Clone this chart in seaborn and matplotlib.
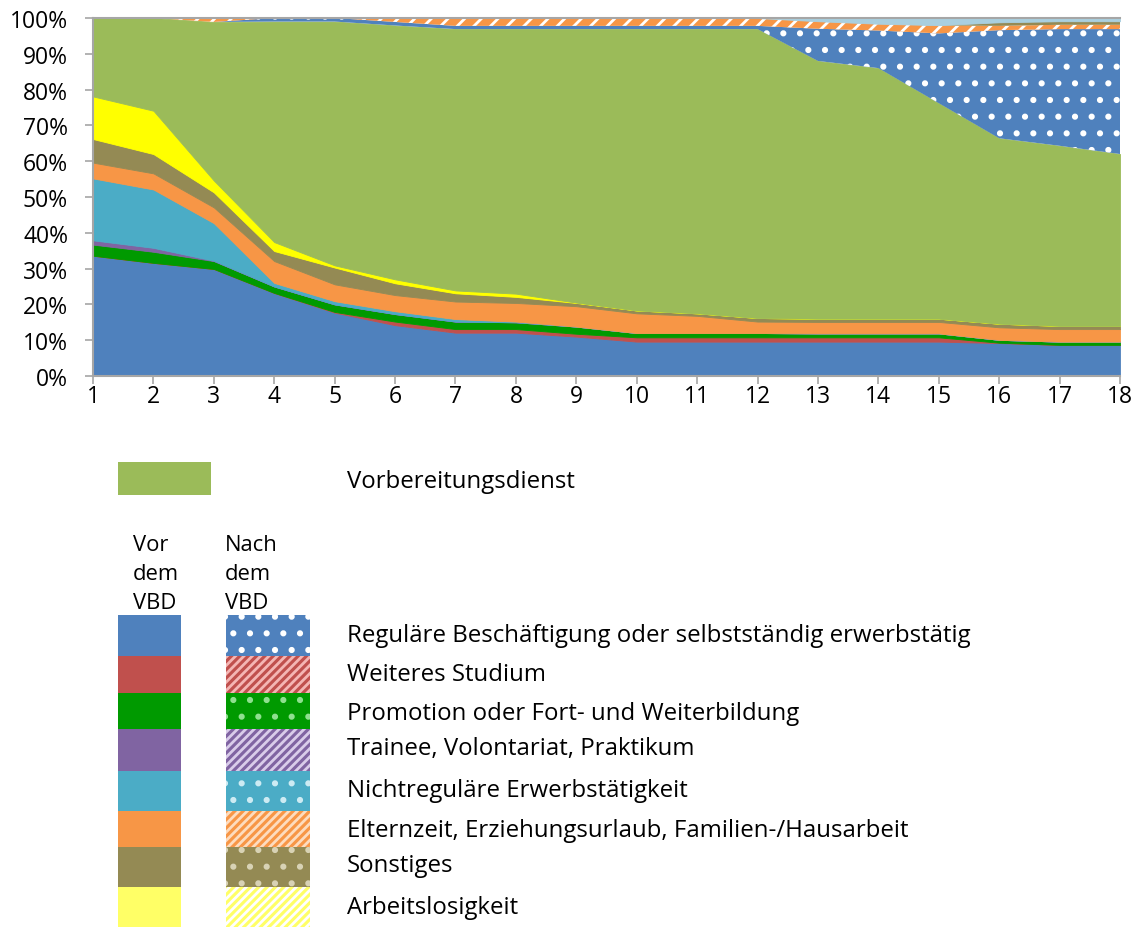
import matplotlib
matplotlib.use("Agg")
import numpy as np
import matplotlib.pyplot as plt
from matplotlib.patches import Rectangle
from matplotlib.ticker import PercentFormatter
import seaborn as sns

# Zeitpunkte 1..18
zeitpunkte = list(range(1, 19))

# Anteile in % -- vor dem Vorbereitungsdienst (VBD)
regulaer_vor = [33.6, 31.6, 29.9, 23.2, 17.7, 14.2, 12.1, 12.1, 11.0, 9.6, 9.6, 9.6, 9.6, 9.6, 9.6, 9.2, 8.7, 8.7]
studium_vor = [0, 0, 0, 0, 0.2, 1.0, 1.0, 1.0, 0.8, 1.2, 1.2, 1.2, 1.2, 1.2, 1.2, 0.1, 0, 0]
promotion_vor = [3.1, 3.1, 2.2, 1.8, 2.1, 2.1, 2.1, 1.9, 2.0, 1.2, 1.2, 1.2, 1.1, 1.1, 1.1, 0.8, 0.9, 0.9]
trainee_vor = [1.2, 1.1, 0.1, 0, 0, 0, 0, 0, 0, 0, 0, 0, 0, 0, 0, 0, 0, 0]
nichtregulaer_vor = [17.3, 16.3, 10.5, 1.0, 0.9, 0.8, 0.7, 0.2, 0, 0, 0, 0, 0, 0, 0, 0, 0, 0]
elternzeit_vor = [4.4, 4.5, 4.4, 6.1, 4.7, 4.5, 4.9, 5.2, 5.7, 5.5, 4.8, 3.2, 3.2, 3.2, 3.2, 3.5, 3.5, 3.5]
sonstiges_vor = [6.6, 5.4, 4.2, 2.8, 4.7, 3.3, 2.3, 1.7, 0.9, 0.8, 0.7, 1.0, 0.9, 0.9, 0.9, 1.0, 0.9, 0.9]
arbeitslos_vor = [11.9, 12.1, 3.3, 2.5, 0.6, 1.1, 0.8, 0.9, 0.1, 0, 0, 0, 0, 0, 0, 0, 0, 0]

# Vorbereitungsdienst
vbd = [21.9, 25.9, 44.3, 61.6, 68.1, 70.9, 73.0, 73.9, 76.4, 78.6, 79.4, 80.7, 72.0, 70.0, 60.2, 51.8, 50.3, 48.0]

# nach dem VBD
regulaer_nach = [0, 0, 0, 1.0, 1.0, 1.0, 0.9, 0.9, 0.9, 0.9, 0.9, 0.9, 9.0, 10.5, 19.5, 30.2, 32.6, 34.9]
elternzeit_nach = [0, 0, 1.1, 0, 0, 1.1, 2.2, 2.2, 2.2, 2.2, 2.2, 2.2, 2.1, 1.9, 2.2, 1.2, 1.2, 1.2]
sonstiges_nach = [0, 0, 0, 0, 0, 0, 0, 0, 0, 0, 0, 0, 0, 0, 0.1, 1.0, 1.0, 1.0]
fehlend = [0, 0, 0, 0, 0, 0, 0, 0, 0, 0, 0, 0, 0.9, 1.6, 2.0, 1.2, 0.9, 0.9]

legend_labels = ["Reguläre Beschäftigung oder selbstständig erwerbstätig",
                 "Weiteres Studium",
                 "Promotion oder Fort- und Weiterbildung",
                 "Trainee, Volontariat, Praktikum",
                 "Nichtreguläre Erwerbstätigkeit",
                 "Elternzeit, Erziehungsurlaub, Familien-/Hausarbeit",
                 "Sonstiges",
                 "Arbeitslosigkeit"]

blau, rot, gruen, lila = "#4F81BD", "#C0504D", "#009A00", "#8064A2"
tuerkis, orange, oliv, gelb = "#4BACC6", "#F79646", "#948A54", "#FFFF00"
vbd_gruen = "#9BBB59"
hellblau = "#A9CFDF"

sns.set_theme(style="ticks")
plt.rcParams['font.family'] = ['Open Sans', 'DejaVu Sans']
plt.rcParams['text.color'] = 'black'
plt.rcParams['hatch.linewidth'] = 2.0

fig = plt.figure(figsize=(11.36, 9.28), dpi=100)
ax = fig.add_axes([93 / 1136, 1 - 377 / 928, (1120 - 93) / 1136, (377 - 19) / 928])

reihen = [regulaer_vor, studium_vor, promotion_vor, trainee_vor, nichtregulaer_vor,
          elternzeit_vor, sonstiges_vor, arbeitslos_vor, vbd,
          regulaer_nach, elternzeit_nach, sonstiges_nach, fehlend]
farben = [blau, rot, gruen, lila, tuerkis, orange, oliv, gelb, vbd_gruen,
          blau, orange, oliv, hellblau]
muster = [None] * 9 + [".", "//", ".", None]

polys = ax.stackplot(zeitpunkte, *reihen, colors=farben)
for poly, farbe, h in zip(polys, farben, muster):
    if h is None:
        poly.set_edgecolor(farbe)
        poly.set_linewidth(0.6)
    else:
        poly.set_hatch(h)
        poly.set_edgecolor("white")
        poly.set_linewidth(0)

ax.set_xlim(1, 18)
ax.set_ylim(0, 100)
ax.set_xticks(zeitpunkte)
ax.set_yticks(np.arange(0, 101, 10))
ax.yaxis.set_major_formatter(PercentFormatter(100, decimals=0))
ax.tick_params(axis="both", direction="out", length=6, width=1.2, color="#A6A6A6",
               labelsize=16.5, labelcolor="black")
ax.tick_params(axis="y", pad=12)
ax.tick_params(axis="x", pad=0)
for side in ["left", "bottom", "top"]:
    ax.spines[side].set_color("#A6A6A6")
    ax.spines[side].set_linewidth(1.5)
ax.spines["right"].set_visible(False)

# Legende
lg = fig.add_axes([0, 0, 1, 1])
lg.set_xlim(0, 1136)
lg.set_ylim(928, 0)
lg.axis("off")

lg.add_patch(Rectangle((118, 463), 93, 33, facecolor=vbd_gruen, linewidth=0))
lg.text(347, 482, "Vorbereitungsdienst", fontsize=17.3, va="center", ha="left")

lg.text(133, 535, "Vor\ndem\nVBD", fontsize=15.8, va="top", ha="left", linespacing=1.5)
lg.text(225, 535, "Nach\ndem\nVBD", fontsize=15.8, va="top", ha="left", linespacing=1.5)

vor_farben = [blau, rot, gruen, lila, tuerkis, orange, oliv, "#FFFF66"]
nach_muster = [".", "////", ".", "////", ".", "////", ".", "////"]
nach_hatch = ["white", "#F4B6B4", "#8FE08F", "#D9CCEA", "#CDEBF3", "#FDDCBF", "#D8D2B5", "white"]
zeilen = [616, 657, 694, 730, 772, 812, 848, 888, 928]
text_y = [636, 675, 714, 749, 791, 831, 866, 908]
for i, label in enumerate(legend_labels):
    y0, y1 = zeilen[i], zeilen[i + 1]
    lg.add_patch(Rectangle((118, y0), 63, y1 - y0, facecolor=vor_farben[i], linewidth=0))
    lg.add_patch(Rectangle((226, y0), 84, y1 - y0, facecolor=vor_farben[i],
                           hatch=nach_muster[i], edgecolor=nach_hatch[i], linewidth=0))
    lg.text(347, text_y[i], label, fontsize=17.3, va="center", ha="left")

fig.savefig("out.png", dpi=100)
